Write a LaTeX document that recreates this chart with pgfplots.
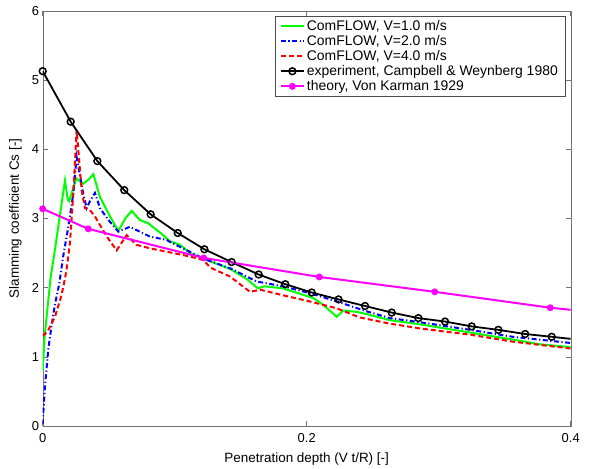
\documentclass[border=0pt]{standalone}
\usepackage{fontspec}
\setmainfont{Liberation Sans}
\usepackage{pgfplots}
\pgfplotsset{compat=1.18}
\definecolor{mgreen}{rgb}{0,1,0}
\definecolor{mblue}{rgb}{0,0,1}
\definecolor{mred}{rgb}{1,0,0}
\definecolor{mmag}{rgb}{1,0,1}
\begin{document}
\begin{tikzpicture}
\begin{axis}[
  scale only axis, width=528bp, height=415bp,
  xmin=0, xmax=0.4, ymin=0, ymax=6,
  xtick={0,0.2,0.4}, ytick={0,1,2,3,4,5,6},
  xticklabels={0,0.2,0.4},
  /pgf/number format/assume math mode=true,
  tick align=inside, major tick length=5bp,
  axis line style={black!55}, tick style={black!55, line width=0.6bp},
  every tick label/.append style={font=\fontsize{13}{15}\selectfont, black},
  xticklabel style={yshift=-4bp},
  xlabel={Penetration depth (V t/R) [-]},
  ylabel={Slamming coefficient Cs [-]},
  label style={font=\fontsize{13.5}{16}\selectfont},
  xlabel style={at={(axis description cs:0.5,0)}, anchor=base, yshift=-36bp},
  ylabel style={at={(axis description cs:0,0.5)}, anchor=base, yshift=23.7bp},
  legend style={at={(1,1)}, anchor=north east, xshift=-5.7bp, yshift=-5bp,
    draw=black!70, fill=white, font=\fontsize{14}{15}\selectfont,
    inner xsep=5bp, inner ysep=2bp, row sep=-0.5bp},
  legend cell align=left,
  legend image code/.code={\draw[mark indices={2}] plot coordinates {(0bp,0bp) (11.5bp,0bp) (23bp,0bp)};},
]
% ComFLOW V=1.0
\addplot[color=mgreen, line width=2bp] coordinates {
(0,0.8) (0.0015,1.3) (0.006,2.15) (0.0085,2.45) (0.0136,3.12) (0.0169,3.55) (0.0190,3.27)
(0.0200,3.25) (0.0255,3.58) (0.0305,3.50) (0.0345,3.56) (0.0384,3.64) (0.0434,3.31)
(0.0510,3.03) (0.0573,2.82) (0.0625,3.0) (0.0674,3.11) (0.0735,2.98) (0.080,2.93)
(0.090,2.78) (0.0965,2.67) (0.104,2.62) (0.1116,2.50) (0.1217,2.42) (0.142,2.27)
(0.155,2.12) (0.163,1.99) (0.168,2.02) (0.182,1.99) (0.205,1.85) (0.2126,1.75)
(0.2227,1.58) (0.2277,1.67) (0.2379,1.65) (0.245,1.62) (0.263,1.53) (0.286,1.47)
(0.321,1.36) (0.356,1.25) (0.377,1.18) (0.4,1.14)
};
\addlegendentry{ComFLOW, V=1.0 m/s}
% ComFLOW V=2.0
\addplot[color=mblue, line width=2bp, dash pattern=on 5bp off 2.5bp on 1.2bp off 2.5bp] coordinates {
(0,0.03) (0.0008,0.3) (0.0017,0.57) (0.0042,1.1) (0.0067,1.45) (0.0092,1.75) (0.0125,2.05)
(0.0155,2.45) (0.0194,2.88) (0.0232,3.36) (0.0257,3.89) (0.0307,3.36) (0.0333,3.15)
(0.0358,3.25) (0.0396,3.37) (0.0434,3.15) (0.0497,2.98) (0.0573,2.81) (0.066,2.88)
(0.081,2.74) (0.094,2.69) (0.0965,2.66) (0.104,2.59) (0.1217,2.42) (0.142,2.28)
(0.162,2.09) (0.182,2.02) (0.2025,1.92) (0.223,1.80) (0.245,1.66) (0.263,1.56)
(0.286,1.50) (0.324,1.39) (0.356,1.29) (0.4,1.20)
};
\addlegendentry{ComFLOW, V=2.0 m/s}
% ComFLOW V=4.0
\addplot[color=mred, line width=2bp, dash pattern=on 5bp off 3bp] coordinates {
(0,1.30) (0.0038,1.37) (0.0093,1.58) (0.0136,1.85) (0.0155,2.0) (0.0181,2.26) (0.0206,2.64)
(0.0232,3.36) (0.0257,4.28) (0.0295,3.41) (0.032,3.15) (0.0358,3.12) (0.0396,3.03)
(0.0485,2.74) (0.056,2.54) (0.0636,2.76) (0.071,2.62) (0.081,2.57) (0.0965,2.51)
(0.1116,2.45) (0.1217,2.40) (0.127,2.29) (0.142,2.16) (0.157,1.94) (0.165,1.97)
(0.182,1.89) (0.2025,1.80) (0.223,1.70) (0.24,1.57) (0.263,1.48) (0.286,1.41)
(0.324,1.32) (0.356,1.22) (0.4,1.12)
};
\addlegendentry{ComFLOW, V=4.0 m/s}
% experiment
\addplot[black, line width=1.8bp, mark=o, mark size=3.4bp,
  mark options={line width=1.5bp, solid}, mark indices={1,...,20}] coordinates {
(0,5.13) (0.0212,4.40) (0.0414,3.83) (0.0618,3.41) (0.0818,3.06) (0.1023,2.79)
(0.1225,2.555) (0.1431,2.37) (0.1636,2.19) (0.1838,2.05) (0.2038,1.93) (0.2241,1.83)
(0.2442,1.735) (0.2644,1.64) (0.2846,1.56) (0.3048,1.51) (0.3250,1.44) (0.3452,1.39)
(0.3655,1.33) (0.3856,1.29) (0.4,1.26)
};
\addlegendentry{experiment, Campbell \& Weynberg 1980}
% theory
\addplot[color=mmag, line width=2bp, mark=*, mark size=2.4bp,
  mark indices={1,...,6}] coordinates {
(0,3.14) (0.0345,2.85) (0.122,2.43) (0.2095,2.155) (0.297,1.94) (0.3845,1.71) (0.4,1.68)
};
\addlegendentry{theory, Von Karman 1929}
\end{axis}
\path ([shift={(-42.7bp,-42bp)}]current axis.south west) rectangle ([shift={(19.3bp,11bp)}]current axis.north east);
\end{tikzpicture}
\end{document}
